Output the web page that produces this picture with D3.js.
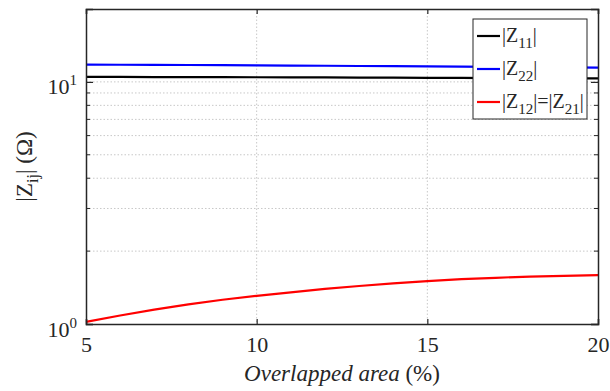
<!DOCTYPE html>
<html>
<head>
<meta charset="utf-8">
<script src="https://cdn.jsdelivr.net/npm/d3@7"></script>
<style>
  body { margin: 0; background: #fff; }
  text { font-family: "Liberation Serif", "Times New Roman", serif; fill: #262626; }
</style>
</head>
<body>
<div id="chart"></div>
<script>
// overlapped area (%)
const area = [5, 6, 7, 8, 9, 10, 11, 12, 13, 14, 15, 16, 17, 18, 19, 20];
// impedance magnitudes (ohm)
const z11 = [10.49, 10.48, 10.47, 10.47, 10.46, 10.45, 10.44, 10.43, 10.42, 10.41, 10.39, 10.38, 10.37, 10.36, 10.34, 10.33];
const z22 = [11.78, 11.77, 11.75, 11.74, 11.72, 11.70, 11.68, 11.66, 11.63, 11.61, 11.58, 11.56, 11.53, 11.51, 11.48, 11.45];
const z12 = [1.02, 1.084, 1.146, 1.205, 1.259, 1.307, 1.352, 1.396, 1.435, 1.472, 1.503, 1.531, 1.552, 1.570, 1.581, 1.591];

const xTicks = [5, 10, 15, 20];
const yMajor = [1, 10];
const yMinor = [2, 3, 4, 5, 6, 7, 8, 9];
const xGrid = [10, 15];

const series = [
  { name: ['|Z', '11', '|'], values: z11, color: '#000000' },
  { name: ['|Z', '22', '|'], values: z22, color: '#0000ff' },
  { name: ['|Z', '12', '|=|Z', '21', '|'], values: z12, color: '#ff0000' }
];

const config = { width: 610, height: 391, left: 86, right: 598, top: 9, bottom: 324 };
const axisColor = '#262626';

const svg = d3.select('#chart').append('svg')
  .attr('width', config.width)
  .attr('height', config.height);

const x = d3.scaleLinear().domain([5, 20]).range([config.left, config.right]);
const y = d3.scaleLog().domain([1, 20]).range([config.bottom, config.top]);

// grid
const grid = svg.append('g').attr('class', 'grid')
  .attr('stroke', '#c8c8c8').attr('stroke-width', 1).attr('stroke-dasharray', '1.5,2');
grid.selectAll('.gx').data(xGrid).join('line')
  .attr('x1', d => x(d)).attr('x2', d => x(d))
  .attr('y1', config.top).attr('y2', config.bottom);
grid.selectAll('.gy').data(yMinor.concat([10])).join('line')
  .attr('x1', config.left).attr('x2', config.right)
  .attr('y1', d => y(d)).attr('y2', d => y(d));

// data lines
const line = d3.line()
  .x((d, i) => x(area[i]))
  .y(d => y(d));

svg.append('g').selectAll('path')
  .data(series)
  .join('path')
  .attr('d', d => line(d.values))
  .attr('fill', 'none')
  .attr('stroke', d => d.color)
  .attr('stroke-width', 2.2);

// axes (ticks inward)
const bottomAxis = svg.append('g')
  .attr('transform', `translate(0, ${config.bottom})`)
  .call(d3.axisBottom(x).tickValues(xTicks).tickSize(-5).tickPadding(12).tickFormat(d3.format('d')));
bottomAxis.selectAll('text').attr('font-size', 22).attr('dy', '0.71em');

const topAxis = svg.append('g')
  .attr('transform', `translate(0, ${config.top})`)
  .call(d3.axisTop(x).tickValues(xTicks).tickSize(-5).tickFormat(''));

const leftAxis = svg.append('g')
  .attr('transform', `translate(${config.left}, 0)`)
  .call(d3.axisLeft(y).tickValues(yMajor).tickSize(-7).tickPadding(10).tickFormat(''));
leftAxis.append('g').selectAll('line').data(yMinor).join('line')
  .attr('x1', 0).attr('x2', 4).attr('y1', d => y(d)).attr('y2', d => y(d))
  .attr('stroke', axisColor);

const rightAxis = svg.append('g')
  .attr('transform', `translate(${config.right}, 0)`)
  .call(d3.axisRight(y).tickValues(yMajor).tickSize(-7).tickFormat(''));
rightAxis.append('g').selectAll('line').data(yMinor).join('line')
  .attr('x1', 0).attr('x2', -4).attr('y1', d => y(d)).attr('y2', d => y(d))
  .attr('stroke', axisColor);

[bottomAxis, topAxis, leftAxis, rightAxis].forEach(a => {
  a.select('.domain').attr('stroke', axisColor).attr('stroke-width', 1.5);
  a.selectAll('.tick line').attr('stroke', axisColor).attr('stroke-width', 1.2);
});

// log tick labels 10^n
const yLabels = svg.append('g').selectAll('text')
  .data(yMajor)
  .join('text')
  .attr('x', config.left - 9)
  .attr('y', d => y(d) + 12.5)
  .attr('text-anchor', 'end')
  .attr('font-size', 22);
yLabels.append('tspan').text('10');
yLabels.append('tspan').attr('dy', -9).attr('font-size', 15).text(d => Math.round(Math.log10(d)));

// axis titles
const xTitle = svg.append('text')
  .attr('x', (config.left + config.right) / 2)
  .attr('y', 381)
  .attr('text-anchor', 'middle')
  .attr('font-size', 23);
xTitle.append('tspan').attr('font-style', 'italic').text('Overlapped area ');
xTitle.append('tspan').text('(%)');

const yTitle = svg.append('text')
  .attr('transform', `translate(32, ${(config.top + config.bottom) / 2}) rotate(-90)`)
  .attr('text-anchor', 'middle')
  .attr('font-size', 23);
yTitle.append('tspan').text('|Z');
yTitle.append('tspan').attr('dy', 6).attr('font-size', 16).text('ij');
yTitle.append('tspan').attr('dy', -6).text('| (Ω)');

// legend
const legend = svg.append('g').attr('class', 'legend');
legend.append('rect')
  .attr('x', 473).attr('y', 19).attr('width', 114).attr('height', 100)
  .attr('fill', '#fff').attr('stroke', axisColor).attr('stroke-width', 1);

const entries = legend.selectAll('.entry')
  .data(series)
  .join('g')
  .attr('class', 'entry')
  .attr('transform', (d, i) => `translate(477, ${36 + i * 33})`);
entries.append('line')
  .attr('x1', 0).attr('x2', 23).attr('y1', 0).attr('y2', 0)
  .attr('stroke', d => d.color).attr('stroke-width', 2.2);
const legendText = entries.append('text')
  .attr('x', 25).attr('y', 6)
  .attr('font-size', 20);
legendText.each(function(d) {
  const t = d3.select(this);
  d.name.forEach((part, k) => {
    const sub = k % 2 === 1;
    t.append('tspan')
      .attr('dy', k === 0 ? 0 : (sub ? 6 : -6))
      .attr('font-size', sub ? 15 : 20)
      .text(part);
  });
});
</script>
</body>
</html>
